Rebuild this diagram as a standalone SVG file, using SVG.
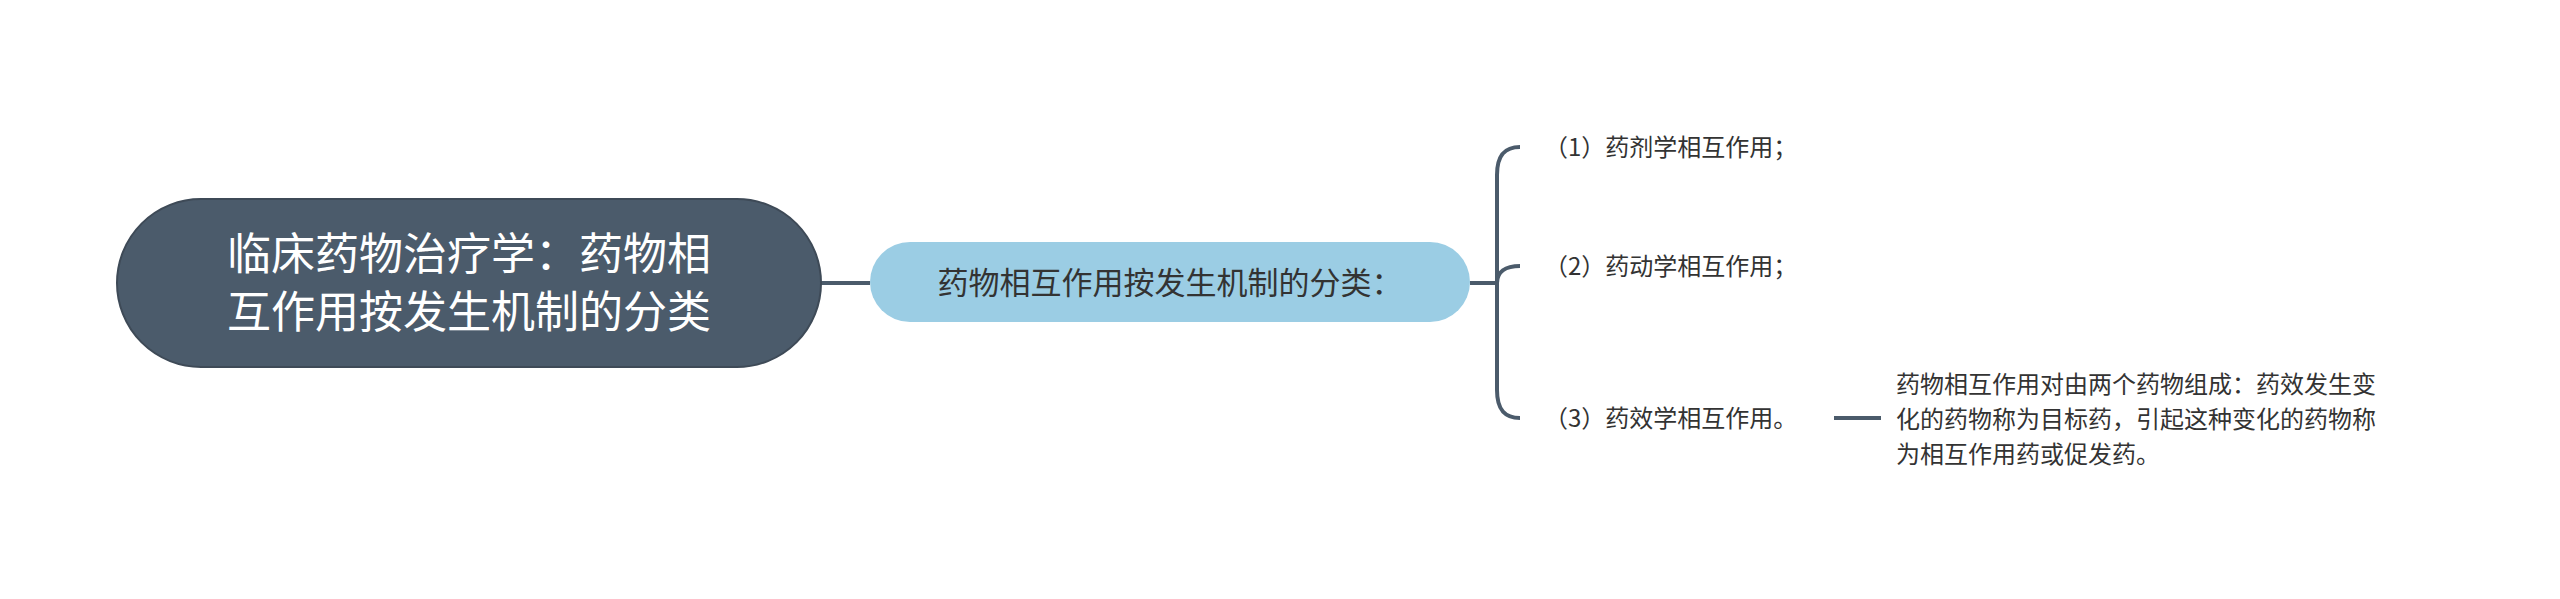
<svg xmlns="http://www.w3.org/2000/svg" width="2560" height="599" viewBox="0 0 2560 599">
<style>
.t{font-family:"Noto Sans CJK SC","Noto Sans",sans-serif}
.c{fill:none;stroke:#4b5b6b;stroke-width:4}
</style>
<rect width="2560" height="599" fill="#fff"/>
<g id="connectors">
<path class="c" d="M821 283H870"/>
<path class="c" d="M1470 283H1497"/>
<path class="c" d="M1520 147C1505 147 1497 155 1497 175V390C1497 410 1505 418 1520 418"/>
<path class="c" d="M1497 283C1497 272 1505 266 1520 266"/>
<path class="c" d="M1834 418H1881"/>
</g>
<g id="root">
<rect x="117" y="199" width="704" height="168" rx="84" fill="#4b5b6b" stroke="#3e4a57" stroke-width="2"/>
<text class="t" x="469" y="270" font-size="44" fill="#fff" text-anchor="middle">临床药物治疗学：药物相</text>
<text class="t" x="469" y="328" font-size="44" fill="#fff" text-anchor="middle">互作用按发生机制的分类</text>
</g>
<g id="child">
<rect x="870" y="242" width="600" height="80" rx="40" fill="#9bcde4"/>
<text class="t" x="1170" y="294" font-size="31" fill="#333" text-anchor="middle">药物相互作用按发生机制的分类：</text>
</g>
<g id="leaf1"><text class="t" x="1544" y="156" font-size="24" fill="#333">（1）药剂学相互作用；</text></g>
<g id="leaf2"><text class="t" x="1544" y="275" font-size="24" fill="#333">（2）药动学相互作用；</text></g>
<g id="leaf3"><text class="t" x="1544" y="427" font-size="24" fill="#333">（3）药效学相互作用。</text></g>
<g id="desc">
<text class="t" font-size="24" fill="#333">
<tspan x="1896" y="393">药物相互作用对由两个药物组成：药效发生变</tspan>
<tspan x="1896" y="428">化的药物称为目标药，引起这种变化的药物称</tspan>
<tspan x="1896" y="463">为相互作用药或促发药。</tspan>
</text>
</g>
</svg>
